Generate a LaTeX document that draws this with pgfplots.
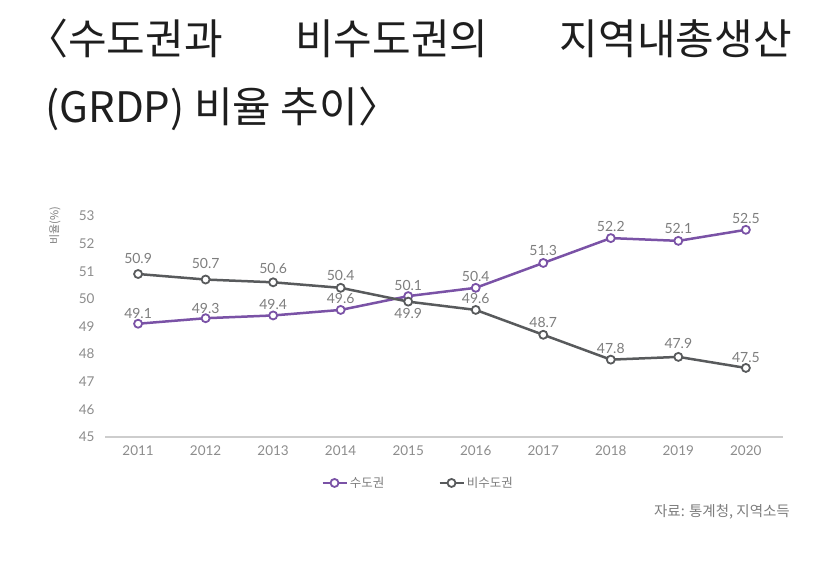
\documentclass[border=0pt]{standalone}
\usepackage{fontspec}
\usepackage{pgfplots}
\pgfplotsset{compat=1.18}
\usepackage{pgfplotstable}
\setmainfont{Lato}
\newfontfamily\kr{Noto Sans CJK KR}
\definecolor{purp}{RGB}{122,82,166}
\definecolor{dgray}{RGB}{88,90,92}
\definecolor{lblgray}{RGB}{125,125,125}
\definecolor{tickgray}{RGB}{140,140,140}
\definecolor{axgray}{RGB}{205,205,205}
\definecolor{titlec}{RGB}{30,30,30}

\pgfplotstableread{
x y dy
2011 49.1 10
2012 49.3 10
2013 49.4 11
2014 49.6 11
2015 50.1 11
2016 50.4 11
2017 51.3 12
2018 52.2 12
2019 52.1 12
2020 52.5 11
}\sudo

\pgfplotstableread{
x y dy
2011 50.9 16
2012 50.7 16
2013 50.6 14
2014 50.4 12
2015 49.9 -12
2016 49.6 11
2017 48.7 12
2018 47.8 11
2019 47.9 13
2020 47.5 10
}\bisudo

\begin{document}
\begin{tikzpicture}
\path[use as bounding box] (0pt,0pt) rectangle (835pt,580pt);
% title
\node[anchor=base west, inner sep=0, text=titlec, font=\kr\fontsize{42}{45}\selectfont] at (26pt,525pt) {〈수도권과};
\node[anchor=base west, inner sep=0, text=titlec, font=\kr\fontsize{42}{45}\selectfont] at (295pt,525pt) {비수도권의};
\node[anchor=base east, inner sep=0, text=titlec, font=\kr\fontsize{42}{45}\selectfont] at (792pt,525pt) {지역내총생산};
\node[anchor=base west, inner sep=0, text=titlec, font=\kr\fontsize{42}{45}\selectfont] at (45pt,457pt) {(GRDP) 비율 추이〉};

\begin{axis}[
  at={(105pt,143pt)}, anchor=south west,
  scale only axis, width=678pt, height=221pt,
  xmin=2010.51, xmax=2020.55, ymin=45, ymax=53,
  xtick={2011,...,2020}, ytick={45,...,53},
  major tick length=0pt,
  /pgf/number format/assume math mode=true,
  x tick label style={/pgf/number format/1000 sep={}, font=\fontsize{13.5}{15}\selectfont, text=tickgray, yshift=-5pt},
  y tick label style={font=\fontsize{13.5}{15}\selectfont, text=tickgray, xshift=-7pt},
  axis x line*=bottom, axis y line*=left,
  x axis line style={draw=axgray, line width=1.5pt, -},
  y axis line style={draw=none},
  ylabel={비율(\%)},
  ylabel style={font=\kr\fontsize{11}{12}\selectfont, text=lblgray, at={(axis description cs:-0.074,0.955)}, anchor=center, rotate=0},
  clip=false,
  point meta=explicit symbolic,
  nodes near coords,
  visualization depends on={\thisrow{dy}\as\dy},
  every node near coord/.append style={anchor=center, yshift=\dy pt, font=\fontsize{14}{15}\selectfont, text=lblgray, inner sep=0pt},
  legend columns=2,
  legend style={draw=none, fill=none, at={(axis description cs:0.4617,-0.208)}, anchor=center,
    font=\kr\fontsize{12.5}{14}\selectfont, text=lblgray,
    /tikz/every even column/.append style={column sep=52pt}},
  legend image code/.code={\draw[mark repeat=2,mark phase=2] plot coordinates {(0pt,0pt) (12pt,0pt) (24pt,0pt)};},
]
\addplot[purp, line width=2.5pt, mark=*, mark size=4pt, mark options={fill=white, draw=purp, line width=1.8pt}] table[x=x, y=y, meta=y] {\sudo};
\addlegendentry{수도권}
\addplot[dgray, line width=2.5pt, mark=*, mark size=4pt, mark options={fill=white, draw=dgray, line width=1.8pt}] table[x=x, y=y, meta=y] {\bisudo};
\addlegendentry{비수도권}
\end{axis}

\node[anchor=east, inner sep=0, text=lblgray, font=\kr\fontsize{14.5}{16}\selectfont] at (790pt,68pt) {자료: 통계청, 지역소득};
\end{tikzpicture}
\end{document}
